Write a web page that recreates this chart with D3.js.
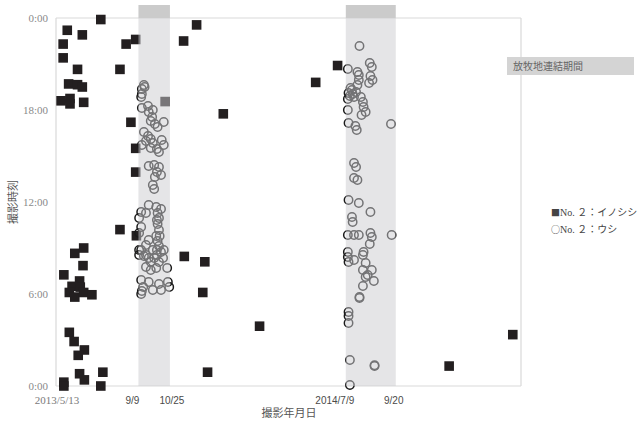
<!DOCTYPE html>
<html>
<head>
<meta charset="utf-8">
<script src="https://cdn.jsdelivr.net/npm/d3@7"></script>
<style>
  body { margin: 0; background: #fff; }
  svg { display: block; }
</style>
</head>
<body>
<svg id="chart" width="640" height="421"></svg>
<script>
// Survey span and axis ticks
const startDate = "2013-05-13";
const endDate = "2015-03-22";
const hourTicks = [0, 6, 12, 18, 24];
const dateTickDates = ["2013-05-13", "2013-09-09", "2013-10-25", "2014-07-09", "2014-09-20"];
const dateTickLabels = ["2013/5/13", "9/9", "10/25", "2014/7/9", "9/20"];

// Periods when the pastures were connected
const periodStarts = ["2013-09-09", "2014-07-09"];
const periodEnds = ["2013-10-25", "2014-09-20"];
const periodLabel = "放牧地連結期間";

const seriesSymbols = ["■", "○"];
const seriesNames = ["No. ２：イノシシ", "No. ２：ウシ"];
const axisTitleX = "撮影年月日";
const axisTitleY = "撮影時刻";

// Camera-trap records: [days since 2013/5/13, hour of day]
const boar = [
  [64, 23.9], [15, 23.2], [37, 22.9], [9, 22.3], [9, 21.4], [30, 20.65], [92, 20.65],
  [101, 22.3], [115, 22.6], [17, 19.7], [30, 19.65], [37, 19.5], [6, 18.6], [19, 18.75],
  [19, 18.4], [39, 18.5], [108, 17.2], [115, 15.5], [115, 13.95], [185, 22.5], [204, 23.55],
  [243, 17.75], [378, 19.8], [410, 20.9], [158, 18.55],
  [92, 10.2], [116, 9.8], [26, 8.65], [39, 9.0], [38, 7.85], [10, 7.25], [33, 6.85],
  [22, 6.5], [34, 6.45], [18, 6.1], [26, 5.8], [39, 6.1], [51, 5.95], [18, 3.5],
  [25, 2.9], [40, 2.35], [31, 2.0], [10, 0.25], [10, 0.0], [33, 0.8], [40, 0.4],
  [67, 0.9], [64, 0.0], [186, 8.45], [216, 8.1], [213, 6.1], [220, 0.9], [296, 3.9],
  [573, 1.3], [666, 3.35]
];

const cattle = [
  // autumn 2013
  [127, 19.63], [124, 19.37], [124, 19.04], [128, 19.5], [123, 18.85], [124, 18.13],
  [133, 18.26], [134, 17.87], [140, 18.0], [139, 17.54], [137, 17.28], [143, 17.09],
  [156, 17.22], [147, 16.89], [127, 16.57], [133, 16.3], [137, 16.11], [130, 15.98],
  [124, 15.72], [140, 15.85], [137, 15.52], [146, 15.46], [153, 16.04], [156, 15.72],
  [149, 15.26],
  [134, 14.35], [142, 14.41], [149, 14.28], [146, 13.96], [152, 13.76], [143, 13.63],
  [140, 13.11], [142, 12.85],
  [134, 11.8], [145, 11.67], [152, 11.54], [123, 11.35], [130, 11.28], [147, 11.28],
  [120, 10.96], [149, 10.96], [147, 10.57], [123, 10.37], [149, 10.17], [120, 9.98],
  [145, 9.78], [147, 9.46], [149, 9.13], [134, 9.52], [130, 9.2], [140, 8.87],
  [123, 8.87], [127, 8.48], [134, 8.35], [146, 8.54], [137, 8.09], [149, 8.09],
  [155, 8.35], [156, 8.87], [161, 7.7], [145, 7.7], [130, 7.76], [146, 10.83],
  [150, 9.78], [146, 8.87], [142, 8.35], [152, 8.74], [130, 8.54], [137, 7.57],
  [120, 8.87], [120, 8.54],
  [123, 6.91], [126, 6.46], [134, 6.78], [140, 6.26], [149, 6.65], [152, 6.26],
  [162, 6.78], [164, 6.46], [124, 6.2], [123, 6.0],
  // summer 2014
  [442, 22.17], [457, 21.07], [460, 20.8], [458, 20.22], [461, 19.96], [456, 19.76],
  [425, 20.67], [439, 20.48], [441, 20.28], [441, 19.96], [439, 19.63], [429, 19.44],
  [426, 19.11], [425, 18.72], [434, 18.85], [444, 18.85], [447, 18.52], [448, 18.2],
  [451, 17.87], [445, 17.67], [425, 18.0], [426, 17.15], [436, 16.96], [438, 16.7],
  [488, 17.09], [431, 19.3], [432, 19.04], [437, 19.17], [428, 18.91],
  [434, 14.54], [437, 14.28], [434, 13.57], [439, 13.43],
  [426, 12.13], [441, 11.93], [458, 11.35], [431, 11.02], [432, 10.7],
  [425, 9.85], [434, 9.85], [441, 9.85], [458, 9.98], [460, 9.72], [489, 9.85],
  [457, 9.26], [448, 8.74], [447, 8.54], [425, 8.74], [425, 8.41], [426, 8.09],
  [434, 8.22], [451, 8.02], [447, 7.57], [454, 7.24], [460, 7.57], [463, 6.85],
  [451, 7.11], [447, 6.52], [442, 5.74], [442, 5.8],
  [426, 4.83], [426, 4.57], [426, 4.11], [428, 1.7], [464, 1.3], [464, 1.35], [428, 0.07]
];

const parseDate = d3.timeParse("%Y-%m-%d");
const t0 = parseDate(startDate);
const dayToDate = d => d3.timeDay.offset(t0, d);

const svg = d3.select("#chart");
const plot = { left: 56, right: 521, top: 18, bottom: 386 };

const x = d3.scaleTime()
  .domain([t0, parseDate(endDate)])
  .range([plot.left + 1, plot.right]);
const y = d3.scaleLinear()
  .domain([0, 24])
  .range([plot.bottom, plot.top]);

const serif = "'Liberation Serif', 'Noto Sans CJK JP', serif";
const sans = "'Liberation Sans', 'Noto Sans CJK JP', sans-serif";
const cjk = "'Noto Sans CJK JP', sans-serif";

// Plot frame
const frame = svg.append("g").attr("stroke", "#d9d9d9").attr("stroke-width", 1.2);
frame.append("line").attr("x1", plot.left).attr("x2", plot.right).attr("y1", y(24)).attr("y2", y(24));
frame.append("line").attr("x1", plot.right).attr("x2", plot.right).attr("y1", y(24)).attr("y2", y(0));
frame.append("line").attr("x1", plot.left).attr("x2", plot.left).attr("y1", y(24)).attr("y2", y(0));
frame.append("line").attr("x1", plot.left).attr("x2", plot.right).attr("y1", y(0)).attr("y2", y(0));

// Boar: filled squares
const sq = 9.6;
svg.append("g").selectAll("rect").data(boar).join("rect")
  .attr("x", d => x(dayToDate(d[0])) - sq / 2)
  .attr("y", d => y(d[1]) - sq / 2)
  .attr("width", sq).attr("height", sq)
  .attr("fill", "#231f20");

// Cattle: open circles
svg.append("g").selectAll("circle").data(cattle).join("circle")
  .attr("cx", d => x(dayToDate(d[0])))
  .attr("cy", d => y(d[1]))
  .attr("r", 4.2)
  .attr("fill", "none")
  .attr("stroke", "#1a1a1a")
  .attr("stroke-width", 1.5);

// Connection periods: translucent bands over the marks, with a cap above the plot
const periods = d3.zip(periodStarts, periodEnds).map(p => p.map(parseDate));
const bands = svg.append("g");
bands.selectAll("rect.band").data(periods).join("rect")
  .attr("class", "band")
  .attr("x", d => x(d[0]))
  .attr("width", d => x(d[1]) - x(d[0]))
  .attr("y", y(24))
  .attr("height", y(0) - y(24))
  .attr("fill", "rgb(204,204,207)")
  .attr("fill-opacity", 0.5);
bands.selectAll("rect.cap").data(periods).join("rect")
  .attr("class", "cap")
  .attr("x", d => x(d[0]))
  .attr("width", d => x(d[1]) - x(d[0]))
  .attr("y", 5)
  .attr("height", y(24) - 5)
  .attr("fill", "#cbcbcb");

// Hour axis labels
svg.append("g").selectAll("text").data(hourTicks).join("text")
  .attr("x", 48)
  .attr("y", d => y(d) + 4)
  .attr("text-anchor", "end")
  .attr("font-family", serif)
  .attr("font-size", 11)
  .attr("fill", "#8a8a8a")
  .text(d => (d % 24) + ":00");

// Date axis labels
const labelShift = [0, -6, 2, -11, -2];
const labelSerif = [true, false, false, false, false];
svg.append("g").selectAll("text").data(dateTickDates).join("text")
  .attr("x", (d, i) => x(parseDate(d)) + labelShift[i])
  .attr("y", 404)
  .attr("text-anchor", "middle")
  .attr("font-family", (d, i) => labelSerif[i] ? serif : sans)
  .attr("font-size", (d, i) => labelSerif[i] ? 11 : 10)
  .attr("fill", (d, i) => labelSerif[i] ? "#7a7a7a" : "#4a4a4a")
  .text((d, i) => dateTickLabels[i]);

// Axis titles
svg.append("text")
  .attr("x", 289).attr("y", 417)
  .attr("text-anchor", "middle")
  .attr("font-family", sans)
  .attr("font-size", 11)
  .attr("fill", "#555")
  .text(axisTitleX);
svg.append("text")
  .attr("transform", "translate(17,202) rotate(-90)")
  .attr("text-anchor", "middle")
  .attr("font-family", sans)
  .attr("font-size", 11)
  .attr("fill", "#555")
  .text(axisTitleY);

// Period key
svg.append("rect")
  .attr("x", 507).attr("y", 57).attr("width", 127).attr("height", 18)
  .attr("fill", "#d4d4d4");
svg.append("text")
  .attr("x", 513).attr("y", 70)
  .attr("font-family", sans)
  .attr("font-size", 10)
  .attr("fill", "#666")
  .text(periodLabel);

// Series legend
const legend = svg.append("g").selectAll("text").data(seriesNames).join("text")
  .attr("x", 551)
  .attr("y", (d, i) => 216 + i * 17)
  .attr("font-size", 10)
  .attr("fill", "#444");
legend.append("tspan")
  .attr("font-family", cjk)
  .attr("font-size", 9)
  .text((d, i) => seriesSymbols[i]);
legend.append("tspan")
  .attr("font-family", serif)
  .text(d => d);
</script>
</body>
</html>
